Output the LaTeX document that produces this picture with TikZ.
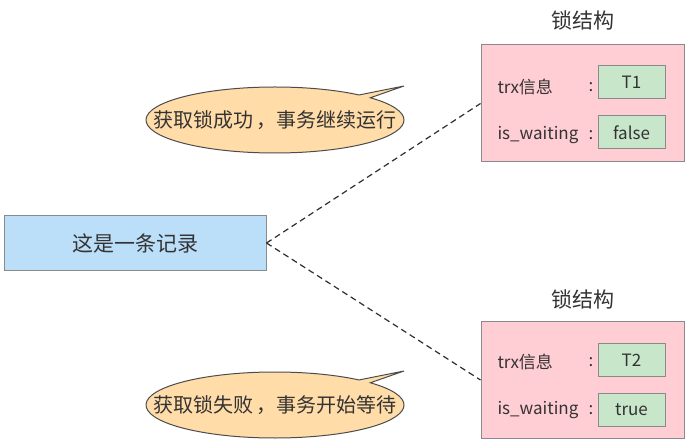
\documentclass[tikz,border=0pt]{standalone}
\usepackage{fontspec}
\setmainfont{Noto Sans CJK SC}
\usetikzlibrary{positioning,shapes,shapes.callouts}

\definecolor{recblue}{HTML}{BBDEF9}
\definecolor{lockpink}{HTML}{FFCDD4}
\definecolor{valgreen}{HTML}{C8E6C9}
\definecolor{bubbleor}{HTML}{FFDCA8}
\definecolor{edgegray}{HTML}{8A8A8A}
\definecolor{txtgray}{HTML}{333333}

\tikzset{
  recbox/.style={draw=edgegray,fill=recblue,minimum width=262pt,minimum height=55pt,font=\fontsize{21}{24}\selectfont},
  lockbox/.style={draw=edgegray,fill=lockpink,minimum width=203pt,minimum height=117pt},
  valbox/.style={draw=edgegray,fill=valgreen,minimum width=67pt,minimum height=33pt,font=\fontsize{17}{20}\selectfont},
  fieldlbl/.style={anchor=west,font=\fontsize{17}{20}\selectfont,inner sep=0pt},
  locktitle/.style={font=\fontsize{21}{24}\selectfont},
  bubble/.style={ellipse callout,draw=black!70,fill=bubbleor,minimum width=258pt,minimum height=66pt,callout pointer arc=7},
  bubbletxt/.style={font=\fontsize{20}{23}\selectfont,inner sep=0pt},
  link/.style={dash pattern=on 6pt off 4pt,draw=txtgray!90!black,line width=1.2pt}
}

\begin{document}
\begin{tikzpicture}[x=1pt,y=-1pt,text=txtgray,line width=1pt]
		\useasboundingbox (0,0) rectangle (690,443);

		% Record
		\node[recbox] (rec) at (135,243) {这是一条记录};

		% Lock structure, top
		\node[lockbox] (lockA) at (582.5,103.5) {};
		\node[locktitle] (titleA) at (583,20) {锁结构};
		\node[valbox] (trxA) at (631.5,82.5) {T1};
		\node[valbox] (waitA) at (631.5,132.5) {false};
		\node[fieldlbl] (trxlblA) at (497,87) {trx信息};
		\node[fieldlbl] (waitlblA) at (497,135) {is\_waiting};
		\node[fieldlbl] at (588,87) {:};
		\node[fieldlbl] at (588,135) {:};

		% Lock structure, bottom
		\node[lockbox] (lockB) at (582.5,380) {};
		\node[locktitle] (titleB) at (583,299) {锁结构};
		\node[valbox] (trxB) at (631.5,360) {T2};
		\node[valbox] (waitB) at (631.5,410) {true};
		\node[fieldlbl] (trxlblB) at (497,362) {trx信息};
		\node[fieldlbl] (waitlblB) at (497,410) {is\_waiting};
		\node[fieldlbl] at (588,362) {:};
		\node[fieldlbl] at (588,410) {:};

		% Speech bubbles (shape first, text on top)
		\node[bubble,callout absolute pointer={(404,86)}] (okA) at (275,120) {};
		\node[bubbletxt] at (okA.center) {获取锁成功\,，事务继续运行};
		\node[bubble,callout absolute pointer={(404,371)}] (failB) at (275,405) {};
		\node[bubbletxt] at (failB.center) {获取锁失败\,，事务开始等待};

		% Links
		\draw[link] (rec.east) -- (lockA.west);
		\draw[link] (rec.east) -- (lockB.west);
	\end{tikzpicture}
\end{document}
